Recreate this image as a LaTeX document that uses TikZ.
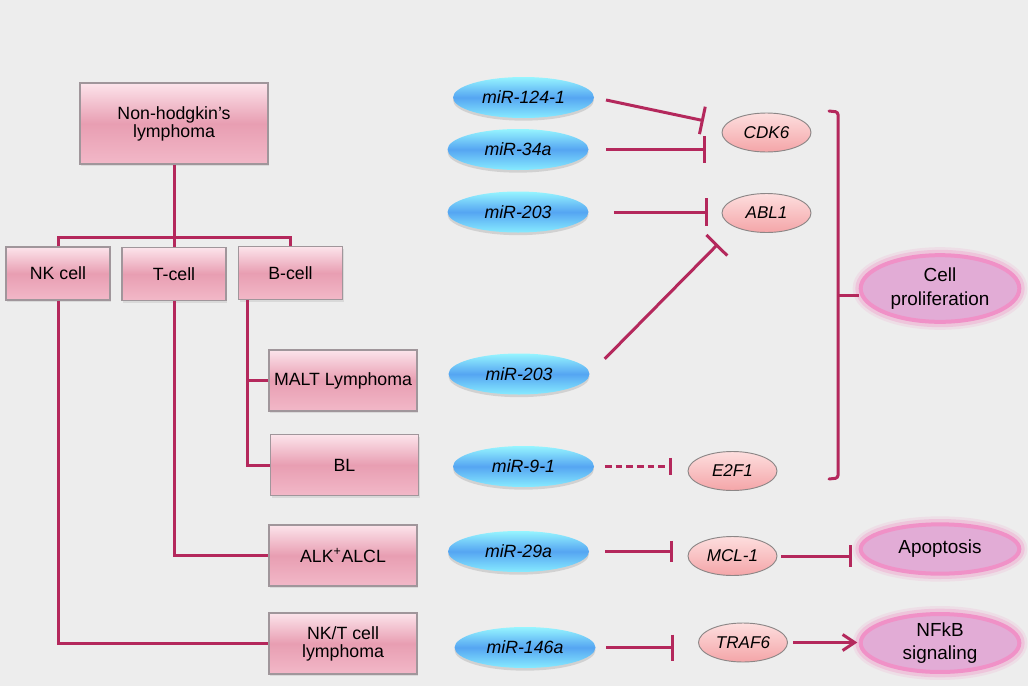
\documentclass[tikz,border=0pt]{standalone}
\usepackage{fontspec}
\setmainfont{Liberation Sans}
\usetikzlibrary{arrows.meta,positioning,calc,shapes.geometric,shadows}
\definecolor{bgcol}{RGB}{237,237,237}
\definecolor{linecol}{RGB}{180,40,92}
\definecolor{boxedge}{RGB}{160,150,155}
\definecolor{boxtop}{RGB}{252,228,235}
\definecolor{boxmid}{RGB}{232,158,178}
\definecolor{boxbot}{RGB}{242,184,200}
\definecolor{mirtop}{RGB}{150,245,255}
\definecolor{mirmid}{RGB}{85,165,242}
\definecolor{mirbot}{RGB}{135,235,255}
\definecolor{tgttop}{RGB}{253,222,222}
\definecolor{tgtbot}{RGB}{244,165,168}
\definecolor{tgtedge}{RGB}{140,135,135}
\definecolor{outfill}{RGB}{226,172,214}
\definecolor{outglow}{RGB}{242,140,196}

\tikzset{
  treeline/.style={draw=linecol, line width=2.25pt},
  inhibit/.style={draw=linecol, line width=2.25pt, -{Bar[width=#1]}},
  inhibit/.default=20pt,
  activate/.style={draw=linecol, line width=2.25pt, -{Straight Barb[length=9pt,width=12pt]}},
  tbox/.style={rectangle, draw=boxedge, line width=0.8pt,
    top color=boxtop, bottom color=boxbot, middle color=boxmid,
    align=center, inner sep=0pt, font=\fontsize{13.3}{13.5}\selectfont,
    drop shadow={opacity=.18, shadow xshift=1pt, shadow yshift=-1.5pt}},
  mirna/.style={ellipse, draw=none, top color=mirtop, bottom color=mirbot, middle color=mirmid,
    minimum width=105.75pt, minimum height=30.75pt, inner sep=0pt,
    font=\fontsize{13.3}{14}\selectfont\itshape,
    drop shadow={opacity=.25, shadow xshift=0pt, shadow yshift=-2pt}},
  target/.style={ellipse, draw=tgtedge, line width=0.7pt, top color=tgttop, bottom color=tgtbot,
    minimum width=66.75pt, minimum height=29.25pt, inner sep=0pt,
    font=\fontsize{12.8}{14}\selectfont\itshape},
  outcome/.style={ellipse, fill=outfill, draw=outglow!85!outfill, line width=3pt,
    preaction={draw=outglow, line width=12pt, opacity=.15},
    preaction={draw=outglow, line width=8pt, opacity=.3},
    minimum width=119pt, inner sep=0pt, align=center,
    font=\fontsize{14.2}{17.5}\selectfont}
}

\begin{document}
\begin{tikzpicture}[x=0.75pt, y=-0.75pt]
    \fill[bgcol] (0,0) rectangle (1028,686);
    \useasboundingbox (0,0) rectangle (1028,686);

    % Lymphoma classes
    \node[tbox, minimum width=141pt, minimum height=60.75pt] (nhl) at (174,123.5) {Non-hodgkin’s\\lymphoma};
    \node[tbox, minimum width=78pt, minimum height=39.75pt] (nk) at (58,273.5) {NK cell};
    \node[tbox, minimum width=78pt, minimum height=39.75pt] (tcell) at (174,274) {T-cell};
    \node[tbox, minimum width=78pt, minimum height=39.75pt] (bcell) at (290.5,273) {B-cell};
    \node[tbox, minimum width=111pt, minimum height=45.75pt] (malt) at (343,380.5) {MALT Lymphoma};
    \node[tbox, minimum width=111pt, minimum height=45.75pt] (bl) at (344.5,465) {BL};
    \node[tbox, minimum width=111pt, minimum height=45.75pt] (alcl) at (343,555.5) {ALK\textsuperscript{+}ALCL};
    \node[tbox, minimum width=111pt, minimum height=45.75pt] (nkt) at (343,643.5) {NK/T cell\\lymphoma};

    % Tree lines
    \coordinate (split) at (174,237);
    \coordinate (bx) at ($(bcell.south west)+(10,0)$);
    \draw[treeline] (nhl.south) -- (split);
    \draw[treeline] (nk.north) -- (nk.north |- split) -- (bcell.north |- split) -- (bcell.north);
    \draw[treeline] (split) -- (tcell.north);
    \draw[treeline] (bx) |- (bl.west);
    \draw[treeline] (malt.west) -- (malt.west -| bx);
    \draw[treeline] (tcell.south) |- (alcl.west);
    \draw[treeline] (nk.south) |- (nkt.west);

    % miRNAs
    \node[mirna] (mir124) at (523.5,97.5) {miR-124-1};
    \node[mirna] (mir34) at (518,149.5) {miR-34a};
    \node[mirna] (mirA203) at (518,212) {miR-203};
    \node[mirna] (mirB203) at (519,374) {miR-203};
    \node[mirna] (mir9) at (523.5,466.5) {miR-9-1};
    \node[mirna] (mir29) at (518.5,551.5) {miR-29a};
    \node[mirna] (mir146) at (525,647.5) {miR-146a};

    % Targets
    \node[target] (cdk) at (766.5,132.5) {CDK6};
    \node[target] (abl) at (766.5,213) {ABL1};
    \node[target] (etwo) at (732.5,471) {E2F1};
    \node[target] (mcl) at (732.5,556) {MCL-1};
    \node[target] (traf) at (743,642.5) {TRAF6};

    % Outcomes
    \node[outcome, minimum height=50pt] (prolif) at (940,288.5) {Cell\\proliferation};
    \node[outcome, minimum height=37pt] (apop) at (940,549) {Apoptosis};
    \node[outcome, minimum height=40pt] (nfkb) at (940,643) {NFkB\\signaling};

    % Inhibition
    \draw[inhibit=21pt, shorten <=9pt, shorten >=16pt] (mir124.east) -- (cdk.170);
    \draw[inhibit=20pt, shorten <=13pt, shorten >=12pt] (mir34.east) -- (mir34.east -| cdk.west);
    \draw[inhibit=21pt, shorten <=18.75pt, shorten >=10.5pt] (mirA203.east) -- (mirA203.east -| abl.west);
    \draw[inhibit=22pt, shorten <=16pt, shorten >=18pt] (mirB203.east) -- (abl.south west);
    \draw[inhibit=13pt, dash pattern=on 5pt off 3pt, shorten <=8pt, shorten >=12pt] (mir9.east) -- (mir9.east -| etwo.west);
    \draw[inhibit=16pt, shorten <=12pt, shorten >=11pt] (mir29.east) -- (mir29.east -| mcl.west);
    \draw[inhibit=16pt, shorten <=3pt, shorten >=5pt] (mcl.east) -- (mcl.east -| apop.west);
    \draw[inhibit=19.5pt, shorten <=8pt, shorten >=18pt] (mir146.east) -- (mir146.east -| traf.west);
    \draw[activate, shorten <=4pt, shorten >=1pt] (traf.east) -- (traf.east -| nfkb.west);

    % Bracket
    \coordinate (brmid) at (838,295);
    \draw[treeline, line cap=round, rounded corners=2pt] (829,111) -- (838,112) -- (838,478) -- (829,479);
    \draw[treeline] (brmid) -- (brmid -| prolif.west);
\end{tikzpicture}
\end{document}
